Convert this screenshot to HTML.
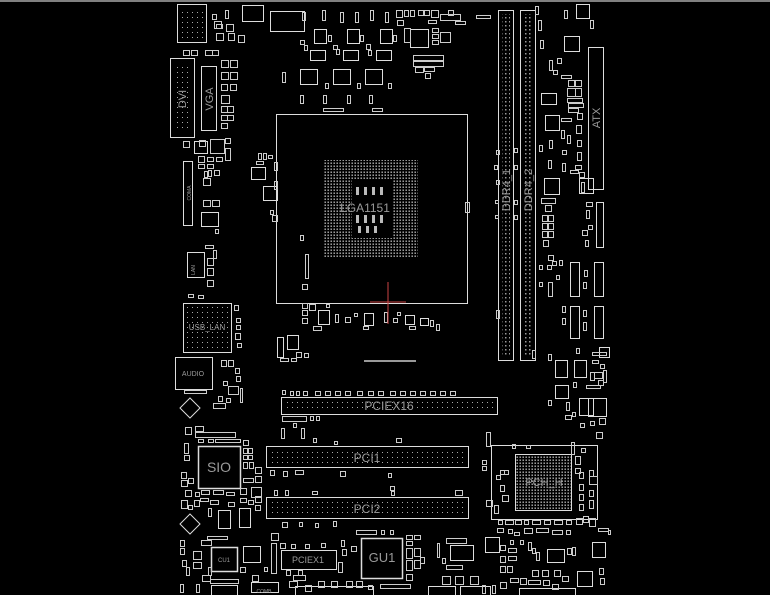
<!DOCTYPE html>
<html><head><meta charset="utf-8"><style>
html,body{margin:0;padding:0;background:#000;width:770px;height:595px;overflow:hidden}
svg{display:block}
text{font-family:"Liberation Sans",sans-serif;fill:#9a9a9a}
</style></head><body>
<svg width="770" height="595" viewBox="0 0 770 595" xmlns="http://www.w3.org/2000/svg">
<defs>
<pattern id="dots" width="3" height="3" patternUnits="userSpaceOnUse"><rect x="0.5" y="0.5" width="1.4" height="1.4" fill="#bbb"/></pattern>
<pattern id="sdots" width="5" height="5" patternUnits="userSpaceOnUse"><rect x="2" y="2" width="1" height="1" fill="#aaa"/></pattern>
<pattern id="ddots" width="4" height="4" patternUnits="userSpaceOnUse"><rect x="1" y="1" width="1.5" height="1.5" fill="#999"/></pattern>
</defs>
<line x1="0" y1="1" x2="770" y2="1" stroke="#aaa" stroke-width="1.5"/>
<g fill="none" stroke="#ddd" stroke-width="1">
<rect x="276.5" y="114.5" width="191" height="189"/>
<rect x="324" y="160" width="94" height="97" fill="url(#dots)" stroke="none"/>
<rect x="352" y="180" width="40" height="58" fill="#000" stroke="none"/>
<path d="M356 187h3v8h-3zM364 187h3v8h-3zM372 187h3v8h-3zM380 187h3v8h-3zM356 215h3v8h-3zM364 215h3v8h-3zM372 215h3v8h-3zM380 215h3v8h-3zM358 226h3v7h-3zM366 226h3v7h-3zM374 226h3v7h-3z" fill="#bbb" stroke="none"/>
<rect x="498.5" y="10.5" width="15" height="350"/>
<rect x="502" y="14" width="8" height="342" fill="url(#ddots)" stroke="none"/>
<rect x="520.5" y="10.5" width="15" height="350"/>
<rect x="524" y="14" width="8" height="342" fill="url(#ddots)" stroke="none"/>
<rect x="588.5" y="47.5" width="15" height="142"/>
<rect x="170.5" y="58.5" width="24" height="79"/>
<rect x="174" y="65" width="16" height="66" fill="url(#sdots)" stroke="none"/>
<rect x="201.5" y="66.5" width="15" height="64"/>
<rect x="177.5" y="4.5" width="29" height="38"/>
<rect x="181" y="10" width="22" height="28" fill="url(#sdots)" stroke="none"/>
<rect x="183.5" y="161.5" width="9" height="64"/>
<rect x="281.5" y="397.5" width="216" height="17"/>
<rect x="284" y="400" width="211" height="12" fill="url(#sdots)" stroke="none"/>
<rect x="266.5" y="446.5" width="202" height="21"/>
<rect x="269" y="449" width="197" height="16" fill="url(#sdots)" stroke="none"/>
<rect x="266.5" y="497.5" width="202" height="21"/>
<rect x="269" y="500" width="197" height="16" fill="url(#sdots)" stroke="none"/>
<rect x="491.5" y="445.5" width="106" height="74"/>
<rect x="515.5" y="454.5" width="56" height="56" fill="url(#dots)"/>
<rect x="198.5" y="446.5" width="42" height="42" stroke-width="1.5"/>
<rect x="183.5" y="303.5" width="48" height="49"/>
<rect x="187" y="307" width="41" height="42" fill="url(#sdots)" stroke="none"/>
<rect x="175.5" y="357.5" width="37" height="32"/>
<rect x="361.5" y="538.5" width="41" height="40" stroke-width="1.5"/>
<rect x="211.5" y="547.5" width="26" height="24" stroke-width="1.5"/>
<rect x="281.5" y="550.5" width="55" height="19"/>
<rect x="243.5" y="546.5" width="17" height="16"/>
<rect x="450.5" y="545.5" width="23" height="15"/>
<rect x="485.5" y="537.5" width="14" height="15"/>
<rect x="547.5" y="549.5" width="17" height="13"/>
<rect x="592.5" y="542.5" width="13" height="15"/>
<rect x="564.5" y="36.5" width="15" height="15"/>
<rect x="270.5" y="11.5" width="34" height="20"/>
<rect x="410.5" y="29.5" width="18" height="18"/>
<rect x="300.5" y="69.5" width="17" height="15"/>
<rect x="333.5" y="69.5" width="17" height="15"/>
<rect x="365.5" y="69.5" width="17" height="15"/>
<rect x="314.5" y="29.5" width="12" height="14"/>
<rect x="347.5" y="29.5" width="12" height="14"/>
<rect x="380.5" y="29.5" width="12" height="14"/>
<rect x="310.5" y="50.5" width="15" height="10"/>
<rect x="343.5" y="50.5" width="15" height="10"/>
<rect x="376.5" y="50.5" width="15" height="10"/>
<rect x="545.5" y="115.5" width="14" height="15"/>
<rect x="555.5" y="360.5" width="12" height="17"/>
<rect x="574.5" y="360.5" width="12" height="17"/>
<rect x="555.5" y="385.5" width="13" height="13"/>
<rect x="579.5" y="398.5" width="14" height="17"/>
<rect x="570.5" y="262.5" width="9" height="34"/>
<rect x="594.5" y="262.5" width="9" height="34"/>
<rect x="570.5" y="306.5" width="9" height="32"/>
<rect x="594.5" y="306.5" width="9" height="32"/>
<rect x="596.5" y="202.5" width="7" height="45"/>
<rect x="201.5" y="212.5" width="17" height="14"/>
<rect x="187.5" y="252.5" width="17" height="25"/>
<rect x="251.5" y="167.5" width="14" height="12"/>
<rect x="263.5" y="186.5" width="14" height="14"/>
<rect x="218.5" y="510.5" width="12" height="18"/>
<rect x="239.5" y="508.5" width="11" height="19"/>
<rect x="277.5" y="337.5" width="6" height="20"/>
<rect x="287.5" y="335.5" width="11" height="14"/>
<rect x="318.5" y="310.5" width="11" height="14"/>
<rect x="364.5" y="313.5" width="9" height="12"/>
<rect x="405.5" y="315.5" width="9" height="9"/>
<rect x="420.5" y="318.5" width="8" height="7"/>
<rect x="194.5" y="141.5" width="13" height="12"/>
<polygon points="190,398 200,408 190,418 180,408"/>
<polygon points="190,514 200,524 190,534 180,524"/>
<rect x="576.5" y="4.5" width="13" height="14"/>
<rect x="577.5" y="571.5" width="15" height="15"/>
<rect x="211.5" y="585.5" width="26" height="10"/>
<rect x="251.5" y="582.5" width="27" height="10"/>
<rect x="295.5" y="586.5" width="78" height="10"/>
<rect x="428.5" y="586.5" width="27" height="10"/>
<rect x="460.5" y="586.5" width="30" height="10"/>
<rect x="519.5" y="588.5" width="56" height="10"/>
<rect x="242.5" y="5.5" width="21" height="16"/>
<rect x="545.5" y="45.5" width="0" height="0"/>
<rect x="541.5" y="93.5" width="15" height="11"/>
<rect x="544.5" y="178.5" width="15" height="16"/>
<rect x="579.5" y="178.5" width="14" height="15"/>
<rect x="599.5" y="347.5" width="10" height="10"/>
<rect x="588.5" y="398.5" width="18" height="18"/>
</g>
<!-- small components clutter -->
<path fill="none" stroke="#ccc" stroke-width="1" d="
M212.5 14.5h4v5h-4zM216.5 24.5h6v4h-6zM225.5 10.5h3v8h-3zM212.5 25.5h0M214.5 21.5h7v7h-7zM226.5 24.5h7v7h-7zM216.5 33.5h7v7h-7zM228.5 33.5h6v7h-6zM238.5 35.5h6v7h-6zM183.5 50.5h6v5h-6zM191.5 50.5h6v5h-6zM205.5 50.5h7v5h-7zM212.5 50.5h6v5h-6z
M221.5 60.5h7v7h-7zM230.5 60.5h7v7h-7zM221.5 72.5h7v7h-7zM230.5 72.5h7v7h-7zM221.5 84.5h6v6h-6zM230.5 84.5h6v6h-6zM221.5 95.5h8v8h-8zM221.5 106.5h6v6h-6zM227.5 106.5h6v6h-6zM221.5 115.5h6v5h-6zM227.5 115.5h6v5h-6zM221.5 123.5h6v5h-6z
M183.5 141.5h6v6h-6zM199.5 140.5h6v6h-6zM210.5 139.5h14v14h-14zM225.5 138.5h5v5h-5zM225.5 148.5h5v12h-5zM198.5 156.5h6v6h-6zM207.5 157.5h6v4h-6zM216.5 157.5h6v4h-6zM198.5 164.5h6v4h-6zM207.5 164.5h6v4h-6zM204.5 171.5h3v6h-3zM208.5 170.5h3v6h-3zM203.5 178.5h7v7h-7zM203.5 200.5h7v6h-7zM212.5 200.5h7v6h-7z
M258.5 153.5h3v6h-3zM263.5 153.5h3v6h-3zM268.5 155.5h4v3h-4zM256.5 161.5h7v3h-7zM274.5 162.5h3v8h-3zM274.5 181.5h3v8h-3zM270.5 210.5h3v4h-3zM272.5 215.5h5v6h-5z
M302.5 12.5h3v8h-3zM322.5 10.5h3v10h-3zM340.5 12.5h3v10h-3zM355.5 12.5h3v10h-3zM370.5 10.5h3v10h-3zM385.5 12.5h3v10h-3zM300.5 40.5h4v4h-4zM304.5 45.5h3v5h-3zM333.5 45.5h4v4h-4zM336.5 49.5h3v5h-3zM366.5 44.5h4v5h-4zM368.5 50.5h3v5h-3zM328.5 35.5h3v6h-3zM360.5 35.5h3v6h-3zM393.5 35.5h3v6h-3z
M396.5 10.5h6v7h-6zM404.5 10.5h4v6h-4zM410.5 10.5h4v6h-4zM418.5 10.5h5v5h-5zM424.5 10.5h5v5h-5zM431.5 10.5h7v7h-7zM440.5 14.5h20v6h-20zM455.5 21.5h10v3h-10zM428.5 20.5h8v3h-8zM397.5 20.5h6v5h-6zM404.5 28.5h6v14h-6zM432.5 28.5h6v4h-6zM432.5 34.5h6v4h-6zM432.5 40.5h6v4h-6zM440.5 32.5h10v10h-10zM413.5 55.5h30v5h-30zM413.5 61.5h30v5h-30zM415.5 67.5h8v5h-8zM424.5 67.5h10v4h-10zM425.5 73.5h5v5h-5zM448.5 10.5h5v5h-5zM476.5 15.5h14v3h-14z
M302.5 76.5h0M282.5 72.5h3v10h-3zM325.5 83.5h3v5h-3zM357.5 83.5h3v5h-3zM388.5 83.5h3v5h-3zM300.5 95.5h3v8h-3zM323.5 95.5h3v8h-3zM347.5 95.5h3v8h-3zM369.5 95.5h3v8h-3zM323.5 108.5h20v3h-20zM372.5 108.5h10v3h-10z
M183.5 180.5h0M214.5 170.5h5v5h-5zM200.5 190.5h0M215.5 229.5h3v4h-3zM205.5 245.5h8v3h-8zM213.5 250.5h3v8h-3zM207.5 258.5h6v7h-6zM207.5 268.5h6v7h-6zM207.5 280.5h6v6h-6zM188.5 294.5h5v3h-5zM198.5 295.5h5v3h-5z
M234.5 305.5h4v5h-4zM236.5 312.5h0M236.5 318.5h4v4h-4zM236.5 325.5h4v4h-4zM235.5 333.5h5v6h-5zM237.5 343.5h4v4h-4zM221.5 360.5h5v6h-5zM228.5 360.5h5v6h-5zM235.5 368.5h4v5h-4zM236.5 376.5h4v5h-4zM223.5 381.5h4v4h-4zM228.5 386.5h10v8h-10zM218.5 396.5h4v5h-4zM226.5 398.5h4v4h-4zM213.5 403.5h12v5h-12zM240.5 388.5h2v14h-2zM184.5 390.5h22v3h-22z
M287.5 335.5h0M296.5 352.5h5v5h-5zM304.5 353.5h4v4h-4zM280.5 358.5h8v3h-8zM291.5 358.5h5v3h-5zM308.5 340.5h0M302.5 303.5h5v5h-5zM302.5 310.5h5v5h-5zM302.5 318.5h5v5h-5zM309.5 304.5h6v6h-6zM313.5 326.5h8v4h-8zM326.5 304.5h3v3h-3zM335.5 314.5h3v8h-3zM345.5 317.5h5v5h-5zM354.5 313.5h3v3h-3zM384.5 312.5h3v10h-3zM393.5 318.5h4v4h-4zM397.5 312.5h3v3h-3zM409.5 326.5h6v3h-6zM430.5 320.5h3v6h-3zM436.5 324.5h3v6h-3zM363.5 326.5h5v3h-5z
M305.5 254.5h3v24h-3zM302.5 284.5h5v5h-5zM370.5 295.5h0M300.5 235.5h3v5h-3zM465.5 202.5h4v10h-4zM459.5 210.5h0
M282.5 390.5h3v4h-3zM290.5 391.5h3v4h-3zM296.5 391.5h3v4h-3zM303.5 391.5h4v4h-4zM315.5 391.5h5v4h-5zM325.5 391.5h5v4h-5zM335.5 391.5h5v4h-5zM345.5 391.5h5v4h-5zM357.5 391.5h5v4h-5zM368.5 391.5h5v4h-5zM378.5 391.5h5v4h-5zM390.5 391.5h5v4h-5zM400.5 391.5h5v4h-5zM410.5 391.5h5v4h-5zM420.5 391.5h5v4h-5zM430.5 391.5h5v4h-5zM440.5 391.5h5v4h-5zM450.5 391.5h5v4h-5zM282.5 416.5h24v5h-24zM310.5 416.5h3v4h-3zM316.5 416.5h3v4h-3zM293.5 423.5h3v4h-3zM281.5 428.5h3v10h-3zM301.5 428.5h3v10h-3zM313.5 438.5h3v4h-3zM334.5 441.5h3v3h-3zM396.5 438.5h5v4h-5z
M185.5 427.5h6v7h-6zM195.5 426.5h8v5h-8zM195.5 432.5h40v5h-40zM198.5 439.5h5v3h-5zM208.5 439.5h5v3h-5zM215.5 439.5h25v3h-25zM184.5 443.5h4v10h-4zM184.5 455.5h5v5h-5zM243.5 440.5h5v5h-5zM243.5 448.5h4v5h-4zM248.5 448.5h4v5h-4zM243.5 455.5h4v4h-4zM248.5 455.5h4v4h-4zM243.5 462.5h4v6h-4zM249.5 462.5h4v6h-4zM255.5 467.5h6v6h-6zM255.5 476.5h6v6h-6zM243.5 478.5h10v4h-10zM181.5 472.5h5v6h-5zM181.5 480.5h6v6h-6zM188.5 478.5h5v5h-5zM185.5 490.5h6v6h-6zM195.5 492.5h4v4h-4zM201.5 490.5h8v4h-8zM213.5 490.5h10v4h-10zM226.5 492.5h8v3h-8zM240.5 488.5h6v6h-6zM251.5 487.5h10v10h-10zM181.5 500.5h6v8h-6zM188.5 505.5h4v4h-4zM194.5 500.5h5v6h-5zM200.5 498.5h8v3h-8zM210.5 500.5h8v4h-8zM228.5 502.5h6v4h-6zM240.5 498.5h6v4h-6zM248.5 500.5h5v4h-5zM255.5 496.5h6v6h-6zM255.5 505.5h5v5h-5zM208.5 508.5h3v8h-3zM180.5 540.5h4v6h-4zM180.5 548.5h4v6h-4zM182.5 560.5h4v6h-4zM186.5 567.5h3v8h-3zM193.5 551.5h8v8h-8zM193.5 562.5h8v6h-8zM201.5 540.5h10v5h-10zM207.5 536.5h20v3h-20zM202.5 575.5h8v6h-8zM210.5 579.5h28v4h-28zM208.5 567.5h3v8h-3zM240.5 567.5h5v5h-5zM252.5 575.5h6v6h-6zM264.5 567.5h3v4h-3zM180.5 584.5h3v8h-3zM196.5 584.5h3v8h-3zM208.5 572.5h0
M268.5 435.5h0M270.5 470.5h4v5h-4zM283.5 471.5h4v5h-4zM295.5 470.5h8v4h-8zM340.5 471.5h5v5h-5zM388.5 473.5h3v4h-3zM390.5 486.5h4v4h-4zM274.5 490.5h3v5h-3zM285.5 490.5h3v5h-3zM312.5 491.5h5v3h-5zM391.5 491.5h3v4h-3zM455.5 490.5h7v5h-7zM282.5 522.5h5v5h-5zM299.5 522.5h3v4h-3zM315.5 523.5h3v4h-3zM333.5 521.5h3v5h-3z
M271.5 533.5h7v7h-7zM271.5 543.5h5v30h-5zM280.5 543.5h5v5h-5zM291.5 544.5h4v4h-4zM305.5 544.5h4v4h-4zM321.5 543.5h4v4h-4zM286.5 570.5h4v5h-4zM298.5 570.5h4v5h-4zM293.5 575.5h12v5h-12zM289.5 581.5h8v6h-8zM305.5 585.5h6v6h-6zM318.5 581.5h6v6h-6zM331.5 581.5h6v6h-6zM346.5 581.5h6v6h-6zM356.5 581.5h6v6h-6zM341.5 540.5h3v6h-3zM342.5 549.5h4v6h-4zM338.5 562.5h4v10h-4zM351.5 546.5h5v5h-5zM356.5 530.5h20v4h-20zM381.5 530.5h3v4h-3zM390.5 530.5h3v4h-3zM406.5 535.5h6v4h-6zM406.5 541.5h6v4h-6zM414.5 535.5h6v4h-6zM406.5 548.5h6v10h-6zM414.5 548.5h6v8h-6zM406.5 560.5h6v10h-6zM414.5 560.5h6v8h-6zM420.5 557.5h4v6h-4zM406.5 574.5h6v6h-6zM380.5 584.5h30v4h-30zM368.5 585.5h4v4h-4zM365.5 572.5h0
M437.5 543.5h2v14h-2zM446.5 538.5h20v5h-20zM446.5 565.5h16v4h-16zM442.5 558.5h3v5h-3zM442.5 576.5h8v8h-8zM455.5 576.5h8v8h-8zM470.5 576.5h8v8h-8zM482.5 585.5h3v8h-3zM492.5 585.5h3v8h-3zM316.5 522.5h0
M486.5 432.5h4v14h-4zM482.5 460.5h4v4h-4zM482.5 466.5h4v4h-4zM486.5 500.5h6v6h-6zM494.5 505.5h4v8h-4zM496.5 475.5h4v4h-4zM500.5 470.5h4v4h-4zM504.5 470.5h4v4h-4zM500.5 485.5h4v6h-4zM502.5 495.5h6v6h-6zM512.5 444.5h3v4h-3zM526.5 445.5h4v3h-4zM571.5 442.5h3v12h-3zM581.5 448.5h4v4h-4zM575.5 456.5h5v8h-5zM575.5 468.5h5v5h-5zM579.5 472.5h4v6h-4zM579.5 484.5h4v6h-4zM579.5 494.5h4v6h-4zM579.5 504.5h4v6h-4zM583.5 516.5h5v6h-5zM589.5 470.5h4v6h-4zM589.5 476.5h8v8h-8zM589.5 490.5h4v6h-4zM589.5 500.5h4v8h-4zM595.5 482.5h0M498.5 520.5h4v4h-4zM505.5 520.5h8v4h-8zM515.5 520.5h6v4h-6zM524.5 520.5h4v4h-4zM532.5 520.5h8v4h-8zM544.5 520.5h6v4h-6zM554.5 520.5h8v4h-8zM566.5 520.5h5v4h-5zM576.5 518.5h6v6h-6zM589.5 518.5h6v8h-6zM497.5 528.5h6v4h-6zM508.5 529.5h4v4h-4zM514.5 532.5h5v3h-5zM524.5 528.5h8v5h-8zM536.5 528.5h12v4h-12zM552.5 530.5h10v4h-10zM566.5 530.5h4v4h-4zM510.5 540.5h3v4h-3zM520.5 540.5h3v4h-3zM523.5 536.5h0M500.5 545.5h5v5h-5zM508.5 548.5h8v4h-8zM500.5 556.5h5v6h-5zM500.5 566.5h5v6h-5zM507.5 566.5h5v6h-5zM508.5 556.5h8v4h-8zM528.5 542.5h3v8h-3zM532.5 548.5h3v5h-3zM536.5 552.5h3v8h-3zM567.5 548.5h4v6h-4zM572.5 547.5h3v8h-3zM532.5 570.5h6v6h-6zM542.5 570.5h6v6h-6zM554.5 570.5h6v6h-6zM562.5 576.5h6v5h-6zM510.5 578.5h8v4h-8zM520.5 578.5h6v6h-6zM528.5 580.5h12v4h-12zM543.5 580.5h6v5h-6zM500.5 582.5h6v6h-6zM552.5 584.5h6v5h-6zM599.5 568.5h4v6h-4zM600.5 578.5h4v6h-4zM608.5 530.5h2v4h-2zM598.5 528.5h10v3h-10z
M564.5 10.5h3v8h-3zM590.5 20.5h3v8h-3zM549.5 60.5h3v10h-3zM553.5 70.5h4v4h-4zM563.5 55.5h0M557.5 58.5h4v5h-4zM561.5 75.5h10v3h-10zM568.5 80.5h6v6h-6zM575.5 80.5h6v6h-6zM567.5 88.5h8v8h-8zM575.5 88.5h6v8h-6zM567.5 98.5h15v4h-15zM568.5 103.5h15v4h-15zM568.5 108.5h10v4h-10zM577.5 113.5h5v6h-5zM576.5 125.5h5v8h-5zM561.5 118.5h10v3h-10zM561.5 130.5h3v8h-3zM567.5 135.5h3v8h-3zM577.5 140.5h4v6h-4zM549.5 140.5h3v8h-3zM562.5 150.5h4v4h-4zM577.5 152.5h4v8h-4zM548.5 160.5h3v8h-3zM562.5 163.5h3v8h-3zM575.5 165.5h6v4h-6zM579.5 172.5h5v5h-5zM570.5 170.5h8v3h-8zM581.5 182.5h3v10h-3zM557.5 182.5h0M541.5 198.5h14v5h-14zM545.5 205.5h6v6h-6zM542.5 215.5h5v6h-5zM548.5 215.5h5v6h-5zM542.5 223.5h5v6h-5zM548.5 223.5h5v6h-5zM542.5 231.5h5v6h-5zM548.5 231.5h5v6h-5zM543.5 240.5h5v6h-5zM586.5 202.5h6v4h-6zM586.5 210.5h3v8h-3zM588.5 225.5h4v4h-4zM582.5 230.5h5v5h-5zM585.5 240.5h3v6h-3zM548.5 255.5h5v5h-5zM547.5 265.5h4v4h-4zM552.5 261.5h4v4h-4zM559.5 260.5h3v5h-3zM548.5 282.5h4v14h-4zM556.5 275.5h3v4h-3zM584.5 270.5h3v6h-3zM583.5 282.5h3v6h-3zM562.5 306.5h3v6h-3zM562.5 318.5h3v6h-3zM583.5 310.5h3v6h-3zM583.5 322.5h3v8h-3zM576.5 348.5h3v5h-3zM592.5 352.5h14v3h-14zM592.5 360.5h6v3h-6zM600.5 364.5h4v4h-4zM590.5 372.5h4v8h-4zM594.5 372.5h8v6h-8zM598.5 380.5h5v5h-5zM586.5 385.5h14v3h-14zM603.5 370.5h3v12h-3zM573.5 382.5h3v5h-3zM566.5 402.5h3v8h-3zM565.5 415.5h6v4h-6zM572.5 412.5h3v4h-3zM580.5 423.5h4v4h-4zM590.5 421.5h4v4h-4zM599.5 418.5h6v6h-6zM596.5 432.5h6v6h-6zM548.5 400.5h3v5h-3zM535.5 6.5h3v8h-3zM538.5 20.5h3v10h-3zM540.5 40.5h3v8h-3zM532.5 350.5h3v8h-3zM548.5 354.5h3v6h-3zM496.5 150.5h3v4h-3zM494.5 165.5h3v4h-3zM496.5 180.5h3v4h-3zM495.5 200.5h3v3h-3zM495.5 215.5h3v3h-3zM514.5 148.5h3v4h-3zM514.5 165.5h3v4h-3zM514.5 200.5h3v4h-3zM514.5 215.5h3v4h-3zM496.5 310.5h3v8h-3zM539.5 145.5h3v6h-3zM539.5 265.5h3v4h-3zM539.5 282.5h3v4h-3zM491.5 392.5h0
"/>
<line x1="364" y1="361" x2="416" y2="361" stroke="#ccc" stroke-width="1.5"/>
<line x1="388" y1="282" x2="388" y2="324" stroke="#c44" stroke-width="1"/>
<line x1="370" y1="302" x2="406" y2="302" stroke="#c44" stroke-width="1"/>
<text x="365" y="212" text-anchor="middle" font-size="12">LGA1151</text>
<text x="510" y="190" text-anchor="middle" transform="rotate(-90 510 190)" font-size="11">DDR4_1</text>
<text x="532" y="190" text-anchor="middle" transform="rotate(-90 532 190)" font-size="11">DDR4_2</text>
<text x="600" y="118" text-anchor="middle" transform="rotate(-90 600 118)" font-size="11">ATX</text>
<text x="186" y="99" text-anchor="middle" transform="rotate(-90 186 99)" font-size="11">DVI</text>
<text x="213" y="99" text-anchor="middle" transform="rotate(-90 213 99)" font-size="11">VGA</text>
<text x="191" y="193" text-anchor="middle" transform="rotate(-90 191 193)" font-size="5">COMA</text>
<text x="389" y="410" text-anchor="middle" font-size="12">PCIEX16</text>
<text x="367" y="462" text-anchor="middle" font-size="12">PCI1</text>
<text x="367" y="513" text-anchor="middle" font-size="12">PCI2</text>
<text x="544" y="486" text-anchor="middle" font-size="11" fill="#888">PCH_H</text>
<text x="219" y="472" text-anchor="middle" font-size="14">SIO</text>
<text x="207" y="330" text-anchor="middle" font-size="8">USB_LAN</text>
<text x="193" y="376" text-anchor="middle" font-size="7">AUDIO</text>
<text x="382" y="562" text-anchor="middle" font-size="13">GU1</text>
<text x="224" y="562" text-anchor="middle" font-size="6">CU1</text>
<text x="308" y="563" text-anchor="middle" font-size="9">PCIEX1</text>
<text x="264" y="593" text-anchor="middle" font-size="5">COMB</text>
<text x="195" y="270" text-anchor="middle" transform="rotate(-90 195 270)" font-size="5">LAN</text>
</svg>
</body></html>
